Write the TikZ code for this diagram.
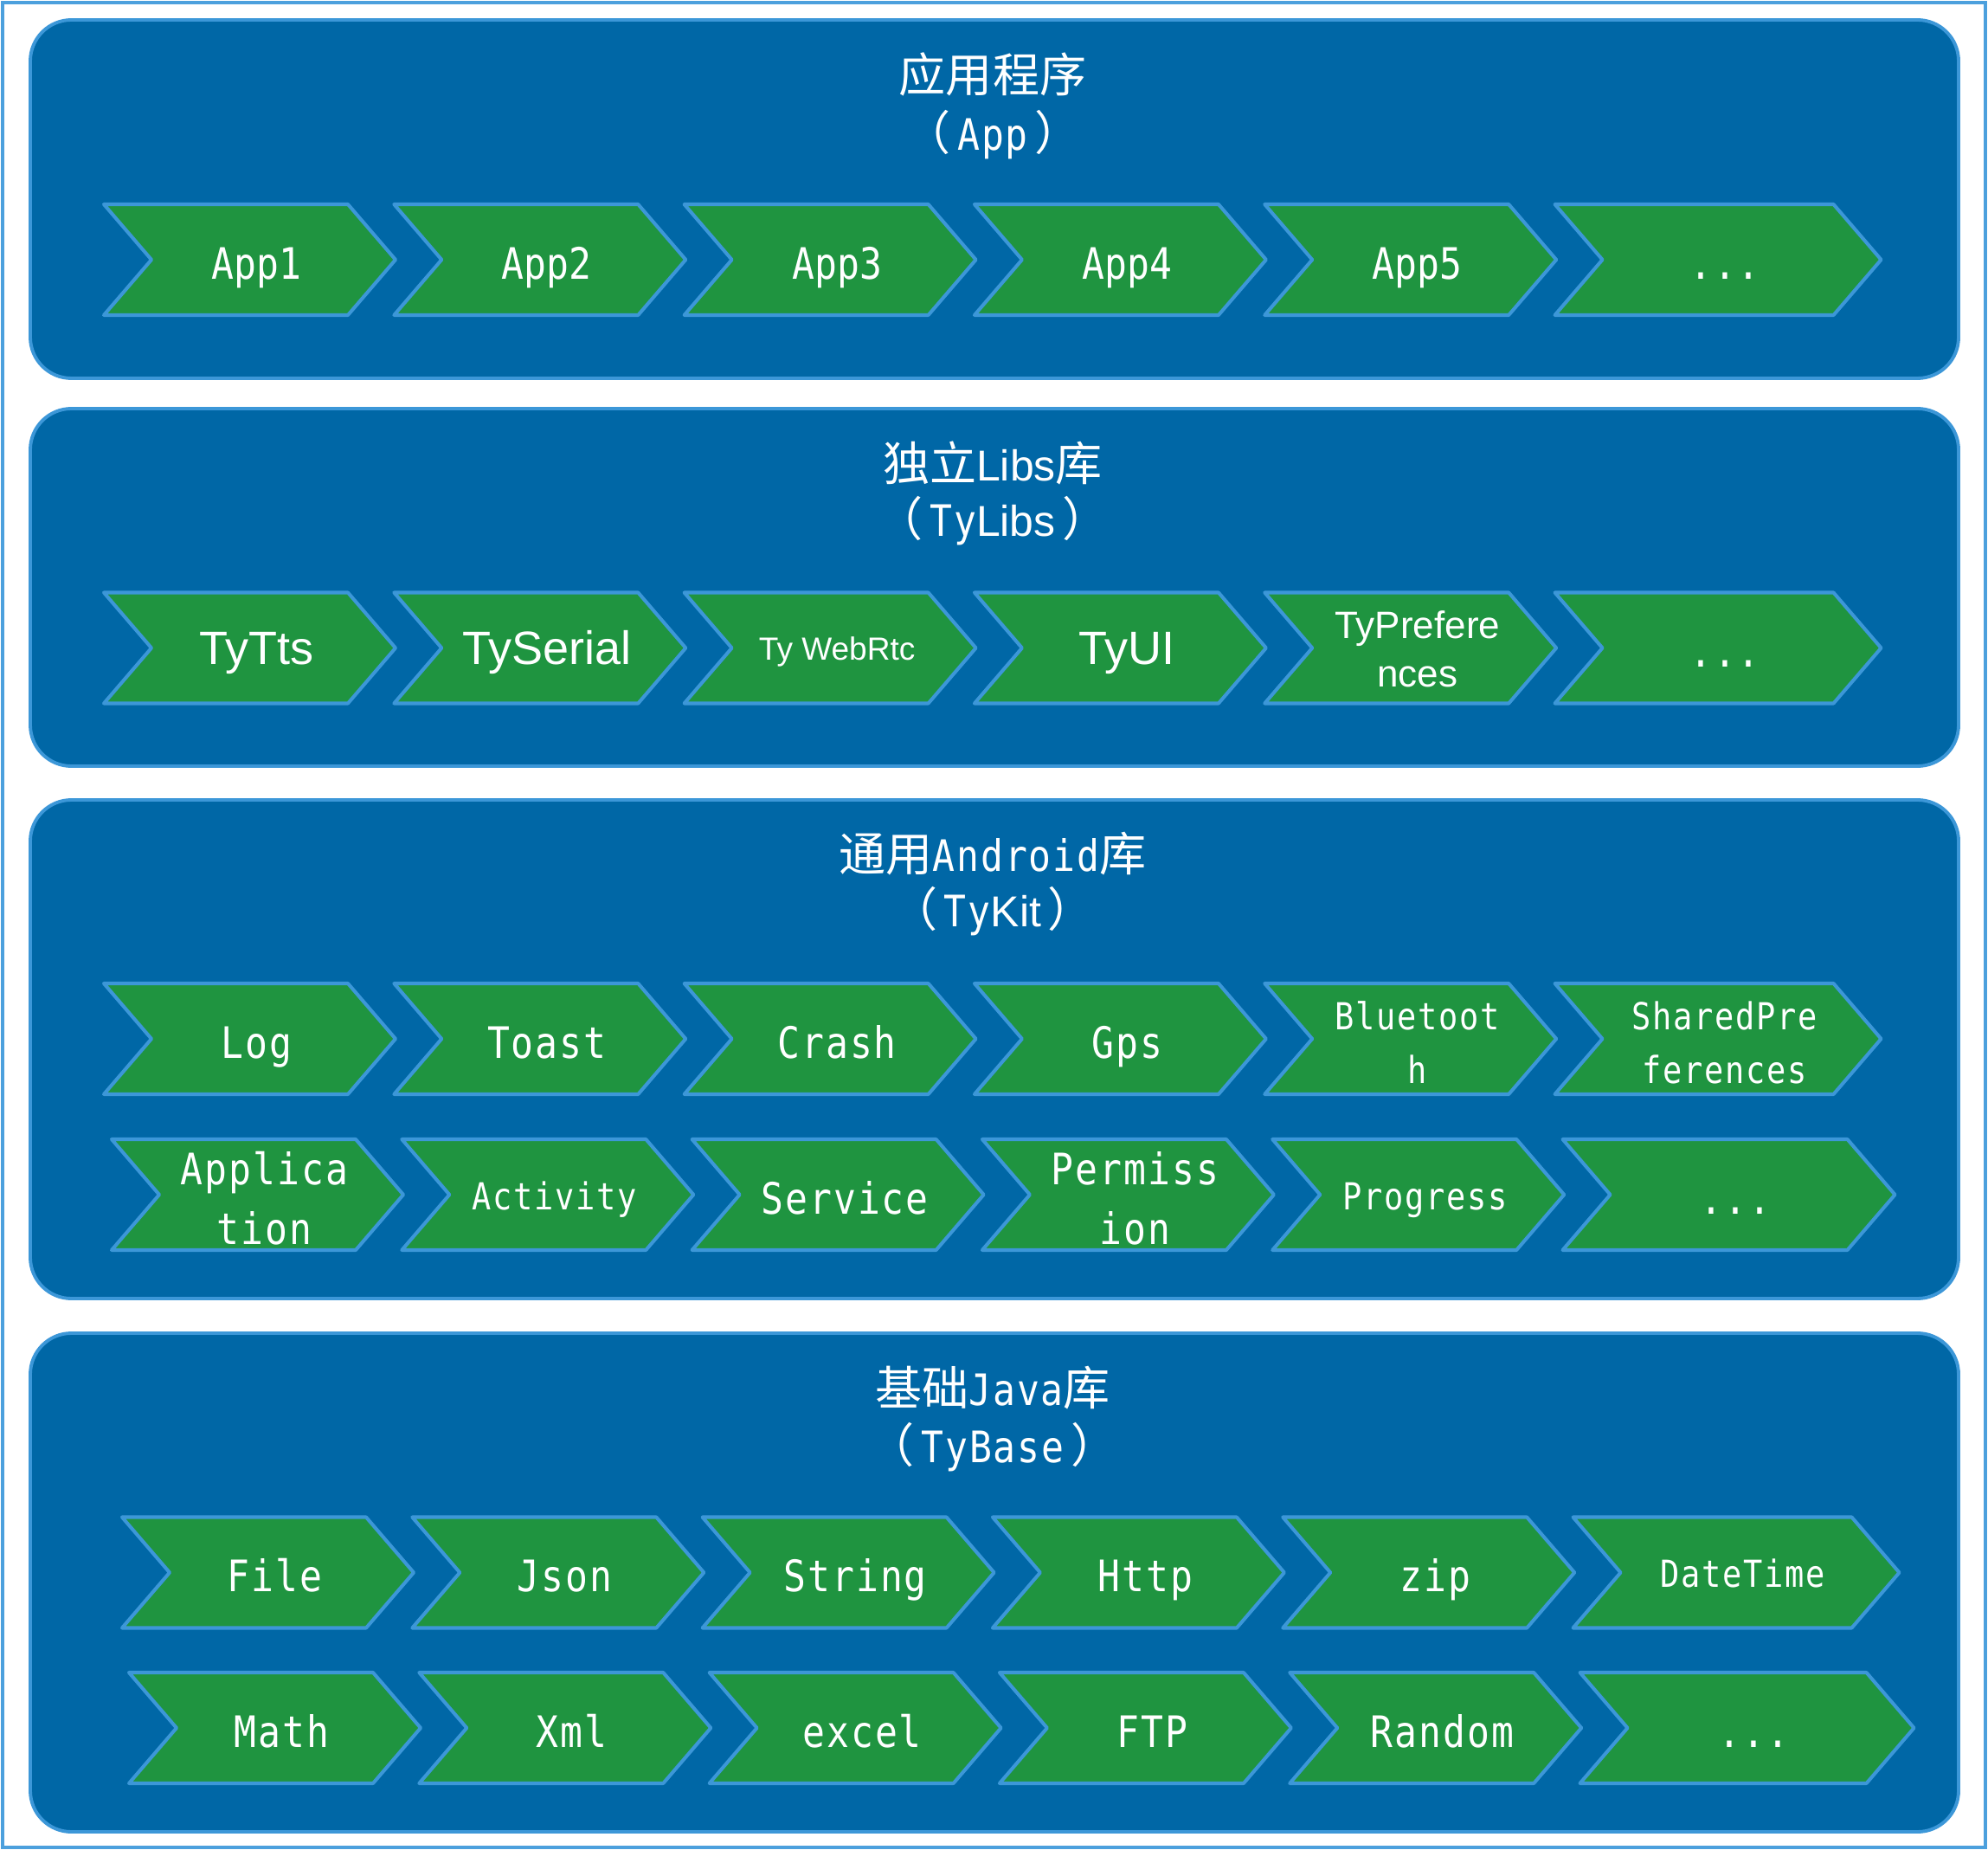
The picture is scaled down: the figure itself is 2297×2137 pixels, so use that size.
\documentclass[tikz,border=0pt]{standalone}
\usepackage{fontspec}
\setmainfont{Liberation Sans}
\newfontfamily\cjkfont{Noto Sans CJK SC}
\newfontfamily\monofont[FakeStretch=0.86]{DejaVu Sans Mono}
\newfontfamily\monospfont[FakeStretch=0.86,LetterSpace=4]{DejaVu Sans Mono}

\definecolor{panelblue}{HTML}{0067A6}
\definecolor{edgeblue}{HTML}{3C97D8}
\definecolor{chevgreen}{HTML}{1F9440}
\definecolor{frameblue}{HTML}{4CA0DD}

\tikzset{
  chevron/.style={fill=chevgreen, draw=edgeblue, line width=1.15pt, line join=round},
  panel/.style={fill=panelblue, draw=edgeblue, line width=1.1pt, rounded corners=13.5pt},
  lab/.style={text=white, inner sep=0pt, anchor=base},
  lapp/.style={lab, font=\monofont\fontsize{14.23pt}{17pt}\selectfont, yshift=-6.26pt},
  lsp/.style={lab, font=\monospfont\fontsize{14.23pt}{17pt}\selectfont, yshift=-6.26pt},
  lsm/.style={lab, font=\monospfont\fontsize{12.23pt}{15pt}\selectfont, yshift=-4.84pt},
  lsptwo/.style={lab, font=\monospfont\fontsize{14.23pt}{19.63pt}\selectfont, yshift=3.41pt},
  lsmtwo/.style={lab, font=\monospfont\fontsize{12.23pt}{17.64pt}\selectfont, yshift=3.13pt},
  larial/.style={lab, font=\fontsize{15.36pt}{18pt}\selectfont, yshift=-5.4pt},
  larialsm/.style={lab, font=\fontsize{10.53pt}{13pt}\selectfont, yshift=-3.98pt},
  larialtwo/.style={lab, font=\fontsize{12.52pt}{15.93pt}\selectfont, yshift=3.13pt},
  ttl/.style={text=white, inner sep=0pt, font=\cjkfont\fontsize{15.36pt}{18pt}\selectfont},
}

% chevron: name, row offset, index in row, width, centre y, label style, label
\newcommand{\chevitem}[7]{%
  \draw[chevron] (#2+#3*335.3,#5-64) -- ++(#4-55,0) -- ++(55,64) -- ++(-55,64)
     -- ++(55-#4,0) -- ++(55,-64) -- cycle;
  \node[#6] (#1) at (#2+#3*335.3+#4/2+8,#5) {#7};%
}
\newcommand{\twolines}[2]{\begin{tabular}[t]{@{}c@{}}#1\\#2\end{tabular}}
\newcommand{\titlemono}[1]{{\monospfont\fontsize{14.23pt}{17pt}\selectfont #1}}
\newcommand{\titlesans}[1]{{\rmfamily\fontsize{14.2pt}{17pt}\selectfont #1}}
\newcommand{\inparens}[1]{（\hspace{2.2pt}#1\hspace{2.2pt}）}

\begin{document}
\begin{tikzpicture}[x=0.01cm, y=-0.01cm]
\useasboundingbox (0,0) rectangle (2297,2137);
\fill[white] (0,0) rectangle (2297,2137);
\draw[frameblue, line width=0.9pt] (3,3) rectangle (2294,2134);

% layers
\draw[panel] (35,23) rectangle (2263,437);
\draw[panel] (35,472) rectangle (2263,885);
\draw[panel] (35,924) rectangle (2263,1500);
\draw[panel] (35,1540) rectangle (2263,2116);

% layer titles
\node[ttl] (t1) at (1147,86) {应用程序};
\node[ttl] (s1) at (1147,156) {\inparens{\titlemono{App}}};
\node[ttl] (t2) at (1147,535) {独立\titlesans{Libs}库};
\node[ttl] (s2) at (1147,602) {\inparens{\titlemono{Ty}\titlesans{Libs}}};
\node[ttl] (t3) at (1147,986) {通用\titlemono{Android}库};
\node[ttl] (s3) at (1147,1053) {\inparens{\titlemono{Ty}\titlesans{Kit}}};
\node[ttl] (t4) at (1147,1603) {基础\titlemono{Java}库};
\node[ttl] (s4) at (1147,1672) {\inparens{\titlemono{TyBase}}};

% App
\chevitem{app1}{120}{0}{337}{300}{lapp}{App1}
\chevitem{app2}{120}{1}{337}{300}{lapp}{App2}
\chevitem{app3}{120}{2}{337}{300}{lapp}{App3}
\chevitem{app4}{120}{3}{337}{300}{lapp}{App4}
\chevitem{app5}{120}{4}{337}{300}{lapp}{App5}
\chevitem{appmore}{120}{5}{377}{300}{lsp}{...}

% TyLibs
\chevitem{tytts}{120}{0}{337}{748.5}{larial}{TyTts}
\chevitem{tyserial}{120}{1}{337}{748.5}{larial}{TySerial}
\chevitem{tywebrtc}{120}{2}{337}{748.5}{larialsm}{Ty WebRtc}
\chevitem{tyui}{120}{3}{337}{748.5}{larial}{TyUI}
\chevitem{typref}{120}{4}{337}{748.5}{larialtwo}{\twolines{TyPrefere}{nces}}
\chevitem{libsmore}{120}{5}{377}{748.5}{lsp}{...}

% TyKit
\chevitem{log}{120}{0}{337}{1200}{lsp}{Log}
\chevitem{toast}{120}{1}{337}{1200}{lsp}{Toast}
\chevitem{crash}{120}{2}{337}{1200}{lsp}{Crash}
\chevitem{gps}{120}{3}{337}{1200}{lsp}{Gps}
\chevitem{bt}{120}{4}{337}{1200}{lsmtwo}{\twolines{Bluetoot}{h}}
\chevitem{sp}{120}{5}{377}{1200}{lsmtwo}{\twolines{SharedPre}{ferences}}
\chevitem{application}{129}{0}{337}{1380}{lsptwo}{\twolines{Applica}{tion}}
\chevitem{activity}{129}{1}{337}{1380}{lsm}{Activity}
\chevitem{service}{129}{2}{337}{1380}{lsp}{Service}
\chevitem{permission}{129}{3}{337}{1380}{lsptwo}{\twolines{Permiss}{ion}}
\chevitem{progress}{129}{4}{337}{1380}{lsm}{Progress}
\chevitem{kitmore}{129}{5}{384}{1380}{lsp}{...}

% TyBase
\chevitem{file}{141}{0}{337}{1816.5}{lsp}{File}
\chevitem{json}{141}{1}{337}{1816.5}{lsp}{Json}
\chevitem{string}{141}{2}{337}{1816.5}{lsp}{String}
\chevitem{http}{141}{3}{337}{1816.5}{lsp}{Http}
\chevitem{zip}{141}{4}{337}{1816.5}{lsp}{zip}
\chevitem{datetime}{141}{5}{377}{1816.5}{lsm}{DateTime}
\chevitem{math}{149}{0}{337}{1996}{lsp}{Math}
\chevitem{xml}{149}{1}{337}{1996}{lsp}{Xml}
\chevitem{excel}{149}{2}{337}{1996}{lsp}{excel}
\chevitem{ftp}{149}{3}{337}{1996}{lsp}{FTP}
\chevitem{random}{149}{4}{337}{1996}{lsp}{Random}
\chevitem{basemore}{149}{5}{386}{1996}{lsp}{...}
\end{tikzpicture}
\end{document}
